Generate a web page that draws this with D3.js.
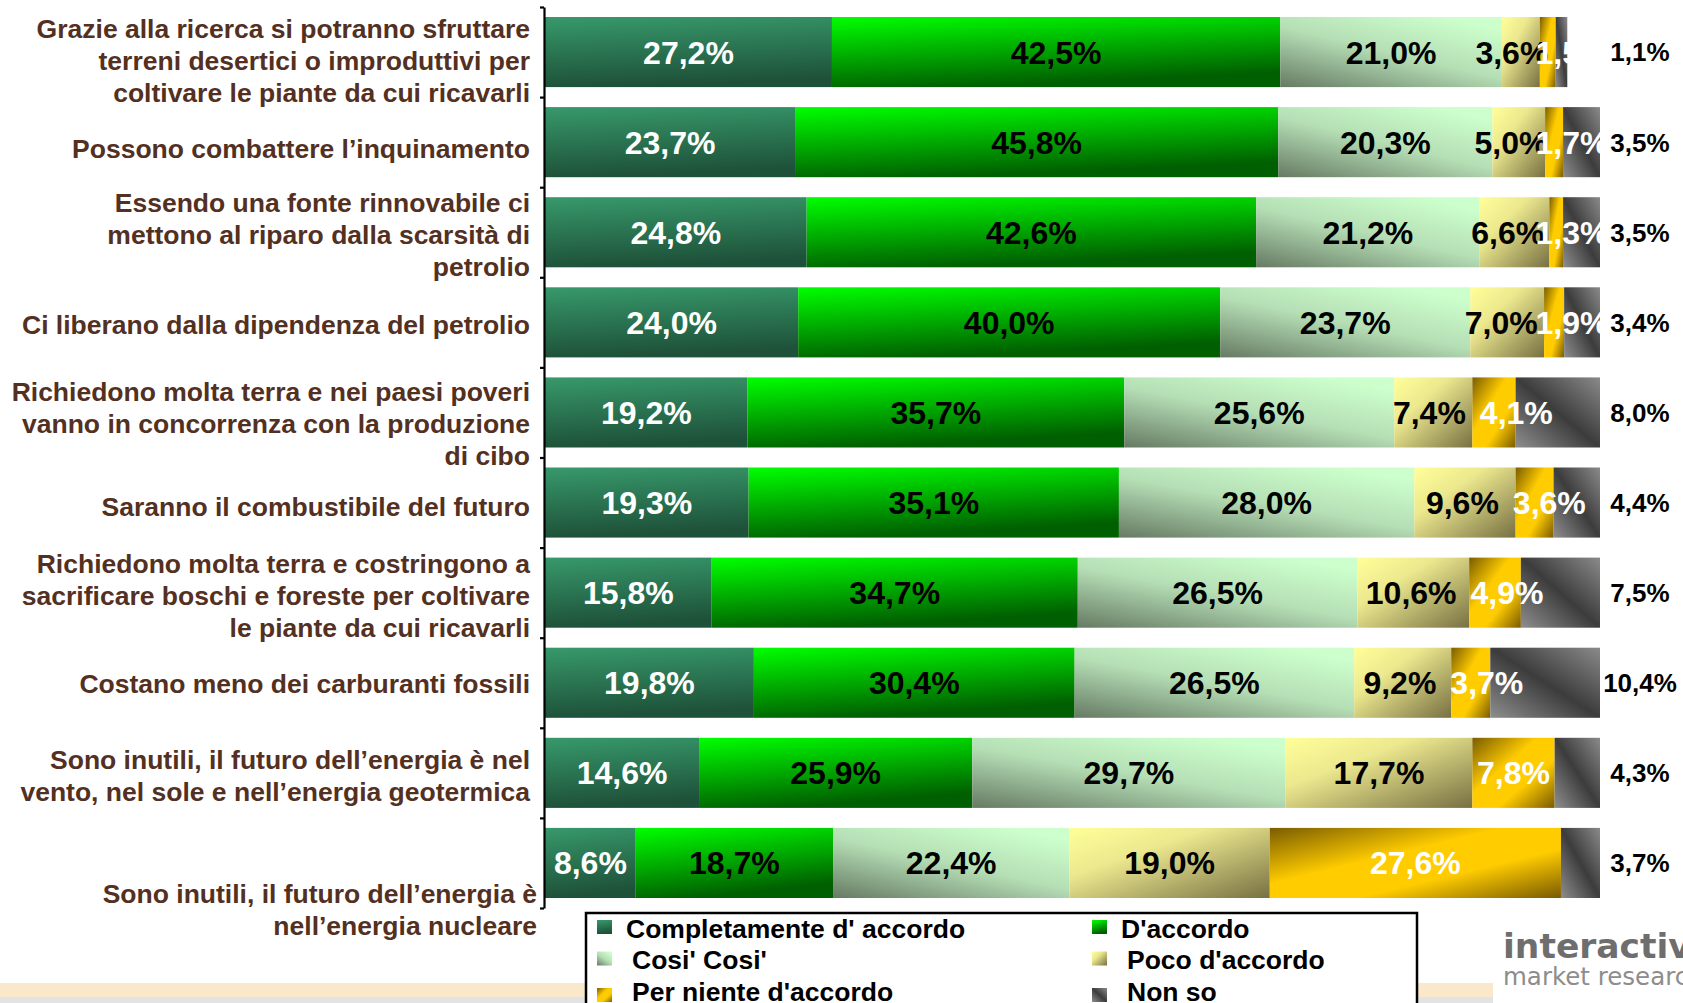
<!DOCTYPE html>
<html>
<head>
<meta charset="utf-8">
<script src="https://cdn.jsdelivr.net/npm/d3@7"></script>
<style>
  html, body { margin: 0; padding: 0; background: #fff; overflow: hidden; }
  svg { display: block; font-family: "Liberation Sans", Arial, sans-serif; font-weight: bold; }
</style>
</head>
<body>
<svg id="chart" width="1683" height="1003"></svg>
<script>
// statements (each one split in the lines shown on the slide)
const statements = [
    ["Grazie alla ricerca si potranno sfruttare", "terreni desertici o improduttivi per", "coltivare le piante da cui ricavarli"],
    ["Possono combattere l’inquinamento"],
    ["Essendo una fonte rinnovabile ci", "mettono al riparo dalla scarsità di", "petrolio"],
    ["Ci liberano dalla dipendenza del petrolio"],
    ["Richiedono molta terra e nei paesi poveri", "vanno in concorrenza con la produzione", "di cibo"],
    ["Saranno il combustibile del futuro"],
    ["Richiedono molta terra e costringono a", "sacrificare boschi e foreste per coltivare", "le piante da cui ricavarli"],
    ["Costano meno dei carburanti fossili"],
    ["Sono inutili, il futuro dell’energia è nel", "vento, nel sole e nell’energia geotermica"],
    ["Sono inutili, il futuro dell’energia è", "nell’energia nucleare"]
]

const answers = ["Completamente d' accordo", "D'accordo", "Cosi' Cosi'", "Poco d'accordo", "Per niente d'accordo", "Non so"]

const completamente = [27.2, 23.7, 24.8, 24.0, 19.2, 19.3, 15.8, 19.8, 14.6, 8.6]
const daccordo      = [42.5, 45.8, 42.6, 40.0, 35.7, 35.1, 34.7, 30.4, 25.9, 18.7]
const cosiCosi      = [21.0, 20.3, 21.2, 23.7, 25.6, 28.0, 26.5, 26.5, 29.7, 22.4]
const pocoAccordo   = [3.6, 5.0, 6.6, 7.0, 7.4, 9.6, 10.6, 9.2, 17.7, 19.0]
const perNiente     = [1.5, 1.7, 1.3, 1.9, 4.1, 3.6, 4.9, 3.7, 7.8, 27.6]
const nonSo         = [1.1, 3.5, 3.5, 3.4, 8.0, 4.4, 7.5, 10.4, 4.3, 3.7]

// layout only: vertical nudge of each statement block (px)
const labelShift = [8, 6, 2, 2, 11, 4, 3, 1, 3, 47]

const GRADIENTS = [
    { v: [0, 0, 0.15, 1], stops: [[0, "#37996b"], [1, "#1e5139"]] },
    { v: [0, 0, 0.3, 1], stops: [[0, "#00ff00"], [1, "#005f00"]] },
    { v: [0, 1, 0.75, 0], stops: [[0, "#667a63"], [0.55, "#b5deb5"], [1, "#ccffcc"]] },
    { v: [0, 0, 1, 1], stops: [[0, "#ffff99"], [0.35, "#ece88e"], [1, "#777043"]] },
    { v: [0, 0, 1, 1], stops: [[0, "#7a5c00"], [0.4, "#ffcc00"], [0.65, "#ffcc00"], [1, "#7a5a00"]] },
    { v: [0, 1, 1, 0], stops: [[0, "#8e8e8e"], [0.5, "#3c3c3c"], [1, "#8a8a8a"]] }
]
const LABEL_COLORS = ["#fff", "#000", "#000", "#000", "#fff", "#000"]
const TEXT_BROWN = "#53301f"
const FONT = 26.5
const VALUE_FONT = 32
const OUTSIDE_FONT = 26

const svg = d3.select("#chart")
const defs = svg.append("defs")

GRADIENTS.forEach((g, i) => {
    const lg = defs.append("linearGradient")
        .attr("id", `grad${i}`)
        .attr("x1", g.v[0]).attr("y1", g.v[1])
        .attr("x2", g.v[2]).attr("y2", g.v[3])
    g.stops.forEach(([o, c]) => lg.append("stop").attr("offset", o).attr("stop-color", c))
})

// bottom strip of the slide
svg.append("rect").attr("x", 0).attr("y", 983).attr("width", 1493).attr("height", 14).attr("fill", "#fae8cb")
svg.append("rect").attr("x", 0).attr("y", 997).attr("width", 1493).attr("height", 6).attr("fill", "#e3e3e3")

const rows = statements.map((s, i) => ({
    idx: i,
    c0: completamente[i], c1: daccordo[i], c2: cosiCosi[i],
    c3: pocoAccordo[i], c4: perNiente[i], c5: nonSo[i]
}))
const keys = ["c0", "c1", "c2", "c3", "c4", "c5"]
const stacked = d3.stack().keys(keys)(rows)

const x = d3.scaleLinear().domain([0, 100]).range([545, 1600])
const y = d3.scaleBand().domain(d3.range(rows.length)).range([7, 908])
    .paddingInner(0.222).paddingOuter(0.111)

// labels drawn inside the bars stop at the bar end
defs.append("clipPath").attr("id", "barClip")
    .append("rect")
    .attr("x", 0).attr("y", 0)
    .attr("width", x(100)).attr("height", 1003)

// bars
const series = svg.append("g")
    .selectAll("g")
    .data(stacked)
    .join("g")
    .attr("fill", (d, i) => `url(#grad${i})`)

series.selectAll("rect")
    .data(d => d)
    .join("rect")
    .attr("x", d => x(d[0]))
    .attr("y", d => y(d.data.idx))
    .attr("width", d => x(d[1]) - x(d[0]))
    .attr("height", y.bandwidth())

// axis (vertical line with small ticks between the bars)
const yAxisScale = d3.scaleLinear().domain([0, rows.length]).range([7, 908])
svg.append("g")
    .attr("transform", "translate(544,0)")
    .call(d3.axisLeft(yAxisScale).ticks(rows.length).tickSize(4).tickSizeOuter(0).tickFormat(""))
    .call(g => g.selectAll("path, line").attr("stroke", "#000").attr("stroke-width", 2.2))

// value labels
const fmt = v => d3.format(".1f")(v).replace(".", ",") + "%"
const insideLayer = svg.append("g").attr("text-anchor", "middle").attr("clip-path", "url(#barClip)")
const outsideLayer = svg.append("g").attr("text-anchor", "middle")

rows.forEach((r, i) => {
    const cy = y(i) + y.bandwidth() / 2
    const items = stacked.map((s, k) => {
        const seg = s[i]
        const outside = k === 5
        const cx = outside ? x(100) + 40 : (x(seg[0]) + x(seg[1])) / 2
        const t = (outside ? outsideLayer : insideLayer).append("text")
            .attr("y", cy)
            .attr("dy", "0.36em")
            .attr("font-size", outside ? OUTSIDE_FONT : VALUE_FONT)
            .attr("fill", LABEL_COLORS[k])
            .text(fmt(r[keys[k]]))
        return { t, cx, w: t.node().getComputedTextLength() }
    })
    // keep the two small labels from sitting on each other
    const a = items[3], b = items[4]
    const overlap = (a.cx + a.w / 2) - (b.cx - b.w / 2) + 14
    if (overlap > 0) {
        a.cx -= overlap * 0.15
        b.cx = Math.min(b.cx + overlap * 0.85, x(100) - 28)
    }
    items.forEach(it => it.t.attr("x", it.cx))
})

// statement labels
const lineH = 32
const catLayer = svg.append("g")
    .attr("font-size", FONT)
    .attr("text-anchor", "end")
    .attr("fill", TEXT_BROWN)

statements.forEach((lines, i) => {
    const cy = y(i) + y.bandwidth() / 2 + labelShift[i]
    const top = cy - (lines.length - 1) * lineH / 2
    const right = i === 9 ? 537 : 530
    const t = catLayer.append("text").attr("x", right)
    lines.forEach((ln, j) => {
        t.append("tspan")
            .attr("x", right)
            .attr("y", top + j * lineH)
            .attr("dy", "0.36em")
            .text(ln)
    })
})

// legend
const legend = svg.append("g")
legend.append("rect")
    .attr("x", 586).attr("y", 913)
    .attr("width", 831).attr("height", 110)
    .attr("fill", "#fff")
    .attr("stroke", "#000")
    .attr("stroke-width", 2.5)

answers.forEach((name, i) => {
    const col = i % 2, row = Math.floor(i / 2)
    const lx = col === 0 ? 597 : 1092
    const ly = 928 + row * 31.5
    legend.append("rect")
        .attr("x", lx).attr("y", ly - 8 + (row === 2 ? 5 : 0))
        .attr("width", 15).attr("height", 14)
        .attr("fill", `url(#grad${i})`)
    legend.append("text")
        .attr("x", lx + 29 + (row > 0 ? 6 : 0))
        .attr("y", ly)
        .attr("dy", "0.36em")
        .attr("font-size", FONT)
        .attr("fill", "#000")
        .text(name)
})

// logo
svg.append("text")
    .attr("x", 1503).attr("y", 958)
    .attr("font-family", "DejaVu Sans")
    .attr("font-size", 34.5)
    .attr("font-weight", "bold")
    .attr("fill", "#6e6e6e")
    .text("interactive")
svg.append("text")
    .attr("x", 1503).attr("y", 985)
    .attr("font-family", "DejaVu Sans")
    .attr("font-size", 24.5)
    .attr("font-weight", "normal")
    .attr("fill", "#8d8d8d")
    .text("market research")
</script>
</body>
</html>
